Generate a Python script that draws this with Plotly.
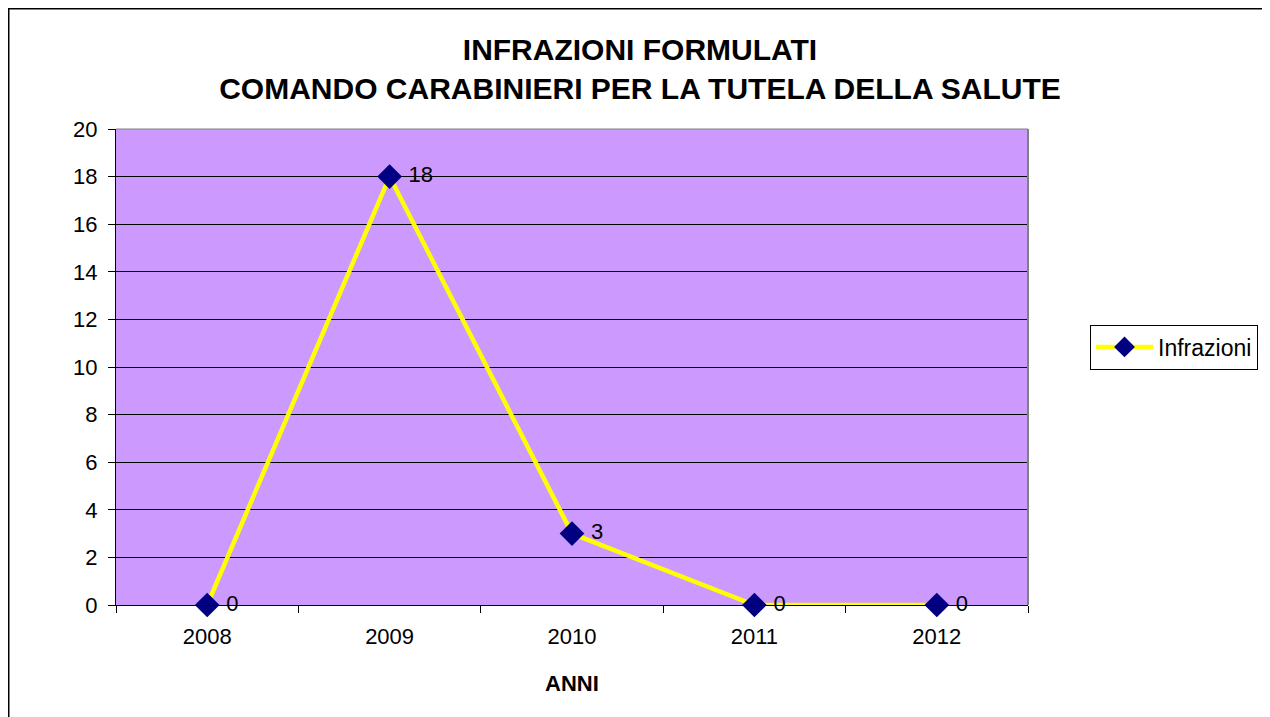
import plotly.graph_objects as go

years = ["2008", "2009", "2010", "2011", "2012"]
infrazioni = [0, 18, 3, 0, 0]
labels = ["0", "18", "3", "0", "0"]
y_ticks = [0, 2, 4, 6, 8, 10, 12, 14, 16, 18, 20]

# page is offset by the 8px body margin; positions below are figure px
W, H = 1270, 717
L, T = 108, 121
R, B = W - 1020, H - 597
pw, ph = W - L - R, H - T - B

FONT = "Liberation Sans, Arial"

fig = go.Figure()
fig.add_trace(go.Scatter(
    x=years, y=infrazioni, mode="lines+markers+text", name="Infrazioni",
    text=[" " + s for s in labels], textposition="middle right",
    textfont=dict(family=FONT, size=22, color="black"),
    line=dict(color="#FFFF00", width=4.5),
    marker=dict(symbol="diamond", size=19, color="#000080"),
    cliponaxis=False,
))

fig.update_layout(
    width=W, height=H,
    margin=dict(l=L, r=R, t=T, b=B),
    paper_bgcolor="white", plot_bgcolor="#CC99FF",
    font=dict(family=FONT, size=22, color="black"),
    title=dict(text="<b>INFRAZIONI FORMULATI<br>COMANDO CARABINIERI PER LA TUTELA DELLA SALUTE</b>",
               x=632 / W, xanchor="center", y=1 - 52 / H, yanchor="middle",
               font=dict(size=30, family=FONT)),
    showlegend=True,
    legend=dict(x=(1082 - L) / pw, xanchor="left", y=1 - (339 - T) / ph, yanchor="middle",
                bordercolor="black", borderwidth=1, bgcolor="white",
                font=dict(size=23), itemwidth=57),
    xaxis=dict(type="category", range=[-0.5, 4.5], tickson="boundaries",
               ticks="outside", ticklen=7, tickcolor="black", showgrid=False,
               ticklabelstandoff=12,
               showline=True, linecolor="black", linewidth=1),
    yaxis=dict(range=[0, 20], tickvals=y_ticks, ticks="outside", ticklen=7, tickcolor="black",
               showgrid=True, gridcolor="black", gridwidth=1, ticklabelstandoff=6,
               showline=True, linecolor="black", linewidth=1, zeroline=False),
    annotations=[dict(text="<b>ANNI</b>", xref="paper", yref="paper", x=0.5,
                      y=1 - (675 - T) / ph, xanchor="center", yanchor="middle",
                      showarrow=False, font=dict(size=22, family=FONT))],
)

# plot area gray top/right border
fig.add_shape(type="line", xref="paper", yref="paper", x0=0, x1=1, y0=1, y1=1,
              line=dict(color="#808080", width=1))
fig.add_shape(type="line", xref="paper", yref="paper", x0=1, x1=1, y0=0, y1=1,
              line=dict(color="#808080", width=2))
# outer chart frame
fig.add_shape(type="rect", xref="paper", yref="paper",
              x0=(0.75 - L) / pw, x1=(1290 - L) / pw,
              y0=1 - (740 - T) / ph, y1=1 - (0.75 - T) / ph,
              line=dict(color="black", width=1.5), layer="below")

fig.write_html("out.html")
